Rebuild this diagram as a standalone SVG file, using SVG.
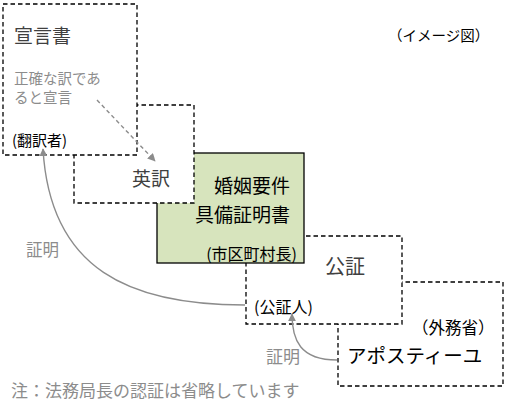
<svg xmlns="http://www.w3.org/2000/svg" width="505" height="405" viewBox="0 0 505 405">
<style>
text{font-family:"Noto Sans CJK JP","Noto Sans CJK SC",sans-serif;}
.box{fill:#fff;stroke:#000;stroke-width:1.3;stroke-dasharray:4.5 3;}
.green{fill:#d7e4bd;stroke:#000;stroke-width:1.3;}
.con{fill:none;stroke:#8c8c8c;stroke-width:1.4;}
.gray{fill:#8c8c8c;}
.dark{fill:#404040;}
.blk{fill:#000;}
</style>
<defs>
<marker id="ah" viewBox="0 0 10 10" refX="9" refY="5" markerWidth="8" markerHeight="8" markerUnits="userSpaceOnUse" orient="auto">
<path d="M0,0 L10,5 L0,10 z" fill="#8c8c8c"/>
</marker>
</defs>
<rect width="505" height="405" fill="#fff"/>
<g id="apostille">
<rect class="box" x="338" y="282" width="165" height="104"/>
<text class="blk" x="412" y="334" font-size="16.5">（外務省）</text>
<text class="blk" x="347" y="363" font-size="19.5">アポスティーユ</text>
</g>
<g id="notary">
<rect class="box" x="246" y="236" width="156" height="88"/>
<text class="dark" x="325" y="274" font-size="20">公証</text>
<text class="blk" x="254" y="313" font-size="16">(公証人)</text>
</g>
<g id="certificate">
<rect class="green" x="157" y="153" width="147" height="110"/>
<text class="blk" x="290" y="193" font-size="19" text-anchor="end">婚姻要件</text>
<text class="blk" x="290" y="222" font-size="19" text-anchor="end">具備証明書</text>
<text class="blk" x="297" y="260" font-size="16" text-anchor="end">(市区町村長)</text>
</g>
<g id="translation">
<rect class="box" x="74" y="105" width="120" height="98"/>
<text class="dark" x="132" y="186" font-size="19">英訳</text>
</g>
<g id="declaration">
<rect class="box" x="3" y="4" width="134" height="151"/>
<text class="dark" x="14" y="43" font-size="19">宣言書</text>
<text class="gray" x="14" y="84" font-size="14.5">正確な訳であ</text>
<text class="gray" x="14" y="103" font-size="14.5">ると宣言</text>
<text class="blk" x="12" y="146" font-size="15">(翻訳者)</text>
</g>
<g id="connectors">
<path class="con" d="M97,100 L155,161" stroke-dasharray="4 3" marker-end="url(#ah)"/>
<path class="con" d="M245,305 C130,305 50,270 43,149" marker-end="url(#ah)"/>
<path class="con" d="M337,360 C300,360 292,340 292,314" marker-end="url(#ah)"/>
</g>
<g id="labels">
<text class="gray" x="26" y="256" font-size="16.5">証明</text>
<text class="gray" x="266" y="363" font-size="17">証明</text>
<text class="gray" x="11" y="397" font-size="17">注：法務局長の認証は省略しています</text>
<text class="blk" x="388" y="41" font-size="14.5">（イメージ図）</text>
</g>
</svg>
